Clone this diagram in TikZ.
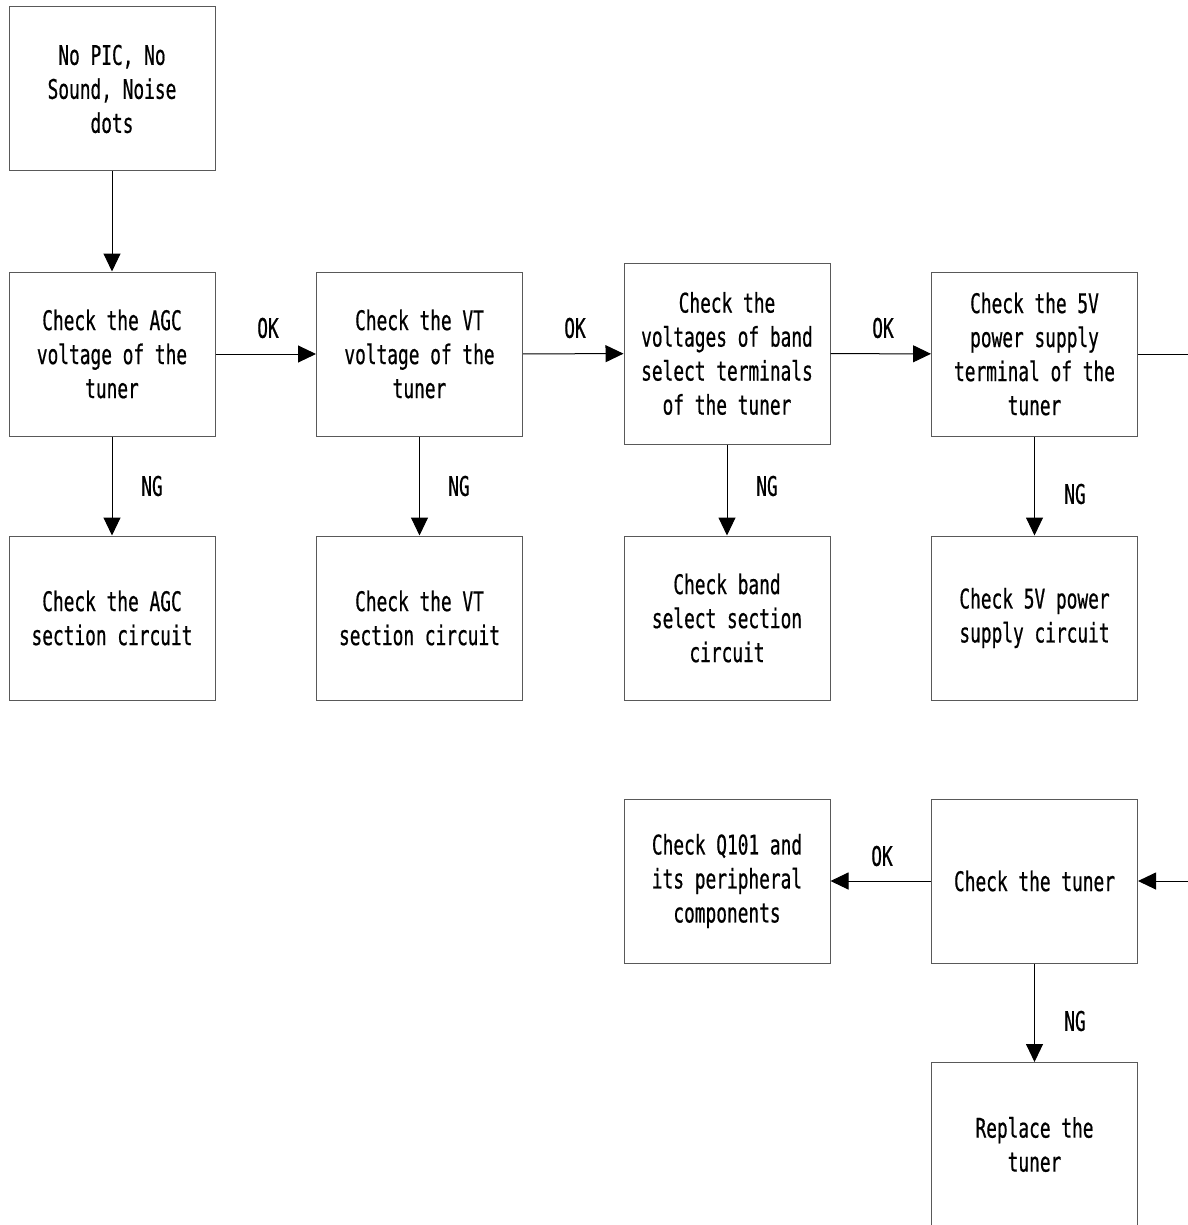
\documentclass[tikz,border=0pt]{standalone}
\usepackage{fontspec}
\newfontfamily\dfont[FakeStretch=0.66,FakeBold=0.6]{DejaVu Sans Mono}
\usetikzlibrary{arrows.meta}
\begin{document}
\begin{tikzpicture}[x=1pt,y=-1pt,
  box/.style={draw=black!65,line width=1pt,minimum width=206pt,minimum height=164pt,
    align=center,font=\dfont\fontsize{27}{34}\selectfont,inner sep=0pt},
  lbl/.style={font=\dfont\fontsize{27}{34}\selectfont,inner sep=0pt},
  conn/.style={draw=black,line width=1pt,-{Triangle[length=18pt,width=17pt]}},
  plain/.style={draw=black,line width=1pt}]
\useasboundingbox (0,0) rectangle (1187,1225);
\node[box] (start) at (112,89) {No PIC, No\\Sound, Noise\\dots};
\node[box] (agc) at (112,354) {Check the AGC\\voltage of the\\tuner};
\node[box] (vt) at (419.5,354) {Check the VT\\voltage of the\\tuner};
\node[box,minimum height=181pt] (band) at (727,353.5) {Check the\\voltages of band\\select terminals\\of the tuner};
\node[box] (fivev) at (1034.5,354) {Check the 5V\\power supply\\terminal of the\\tuner};
\node[box] (agcs) at (112,618) {Check the AGC\\section circuit};
\node[box] (vts) at (419.5,618) {Check the VT\\section circuit};
\node[box] (bands) at (727,618) {Check band\\select section\\circuit};
\node[box] (fivevs) at (1034.5,618) {Check 5V power\\supply circuit};
\node[box] (q101) at (727,881) {Check Q101 and\\its peripheral\\components};
\node[box] (tuner) at (1034.5,881) {Check the tuner};
\node[box] (repl) at (1034.5,1144.5) {Replace the\\tuner};
\coordinate (c1) at (1192,354);
\coordinate (c2) at (1192,881);
\draw[conn] (start) -- (agc);
\draw[conn] (agc) -- (vt);
\draw[conn] (vt) -- (band);
\draw[conn] (band) -- (fivev);
\draw[conn] (agc) -- (agcs);
\draw[conn] (vt) -- (vts);
\draw[conn] (band) -- (bands);
\draw[conn] (fivev) -- (fivevs);
\draw[plain] (fivev.east) -- (c1) -- (c2);
\draw[conn] (c2) -- (tuner.east);
\draw[conn] (tuner) -- (q101);
\draw[conn] (tuner) -- (repl);
\node[lbl] (ok1) at (268,328) {OK};
\node[lbl] (ok2) at (575,328) {OK};
\node[lbl] (ok3) at (883,328) {OK};
\node[lbl] (ng1) at (152,486) {NG};
\node[lbl] (ng2) at (459,486) {NG};
\node[lbl] (ng3) at (767,486) {NG};
\node[lbl] (ng4) at (1075,494) {NG};
\node[lbl] (ok4) at (882,856) {OK};
\node[lbl] (ng5) at (1075,1021) {NG};
\end{tikzpicture}
\end{document}
